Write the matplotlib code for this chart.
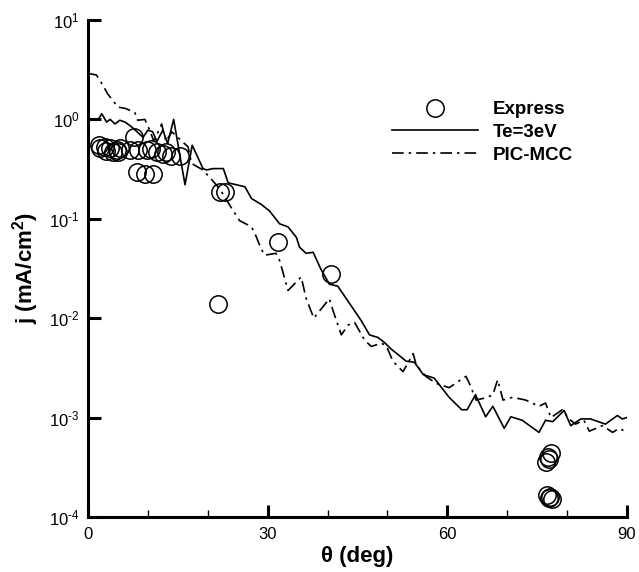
import matplotlib
matplotlib.use("Agg")
import matplotlib.pyplot as plt
from matplotlib.lines import Line2D
from matplotlib.ticker import FixedLocator, LogLocator, NullFormatter, FuncFormatter
import math

plt.rcParams['font.family'] = ['Liberation Sans', 'DejaVu Sans']
plt.rcParams['mathtext.fontset'] = 'custom'
plt.rcParams['mathtext.rm'] = 'Liberation Sans'
plt.rcParams['mathtext.it'] = 'Liberation Sans:italic'
plt.rcParams['mathtext.bf'] = 'Liberation Sans:bold'

# Express (measured) points
express_x = [1.8, 2.0, 2.8, 3.0, 3.7, 4.2, 4.8, 5.0, 5.3, 7.0, 7.6, 8.4, 9.8, 10.5,
             11.5, 12.6, 13.1, 13.9, 15.3, 8.1, 9.5, 10.9, 21.7, 22.0, 22.8,
             31.7, 40.5, 76.5, 76.8, 77.0, 77.3, 76.6, 77.0, 77.2, 77.5]
express_y = [0.55, 0.51, 0.53, 0.48, 0.51, 0.47, 0.49, 0.47, 0.51, 0.49, 0.67, 0.49, 0.49, 0.50,
             0.47, 0.45, 0.47, 0.43, 0.43, 0.295, 0.28, 0.28, 0.014, 0.186, 0.186,
             0.058, 0.028, 3.6e-4, 4.0e-4, 3.8e-4, 4.4e-4, 1.65e-4, 1.55e-4, 1.6e-4, 1.5e-4]

# Te = 3 eV model
te_x = [0, 1.7, 2.3, 3.1, 3.7, 4.5, 5.3, 6.2, 7.3, 9.2, 10.0, 10.8, 11.5, 12.5, 13.3,
        14.3, 16.2, 17.4, 19.2, 19.8, 20.9, 22.6, 23.4, 26.2, 27.3, 28.9, 30.3, 32.0,
        33.4, 34.8, 35.3, 36.4, 37.6, 38.9, 40.3, 41.7, 43.7, 45.6, 47.0, 48.4, 49.5,
        50.6, 52.0, 53.1, 54.5, 56.0, 57.8, 60.3, 62.4, 63.3, 64.7, 66.4, 67.6, 69.5,
        70.6, 72.5, 75.3, 76.4, 77.6, 79.5, 80.6, 82.3, 83.9, 86.4, 88.4, 89.2, 90.0]
te_y = [1.0, 1.0, 1.14, 0.94, 1.0, 0.90, 0.98, 0.94, 0.84, 0.66, 0.78, 0.75, 0.60, 0.78, 0.57,
        1.0, 0.22, 0.55, 0.32, 0.31, 0.32, 0.32, 0.23, 0.21, 0.16, 0.14, 0.12, 0.089,
        0.083, 0.065, 0.052, 0.045, 0.046, 0.031, 0.022, 0.021, 0.014, 0.0095, 0.0068, 0.0064, 0.0057,
        0.0049, 0.0042, 0.0037, 0.0036, 0.0027, 0.0025, 0.0016, 0.0012, 0.0012, 0.0017, 0.00102, 0.0013, 0.00078,
        0.00102, 0.00094, 0.00071, 0.00094, 0.00091, 0.00118, 0.00083, 0.00097, 0.00097, 0.00086, 0.00105, 0.00097, 0.001]

# PIC-MCC simulation
pic_x = [0, 1.4, 2.5, 3.3, 5.0, 6.2, 7.8, 8.3, 9.5, 10.3, 11.0, 12.3, 13.0, 14.0, 15.6,
         16.7, 17.3, 19.2, 20.6, 22.0, 23.9, 25.3, 27.3, 28.1, 28.9, 29.5, 31.4, 32.0,
         33.4, 35.6, 36.4, 37.7, 40.3, 40.9, 42.3, 43.4, 44.5, 46.2, 47.3, 49.0, 49.8,
         50.9, 52.6, 54.3, 54.8, 56.4, 58.2, 60.3, 61.8, 63.1, 63.7, 64.8, 66.7, 67.6,
         68.4, 69.3, 70.9, 73.1, 75.3, 76.4, 77.3, 79.2, 80.3, 81.4, 82.8, 83.7, 85.9,
         87.6, 88.7, 90.0]
pic_y = [2.9, 2.8, 2.2, 1.8, 1.33, 1.29, 1.18, 0.98, 1.0, 0.78, 0.6, 0.9, 0.6, 0.75, 0.61,
         0.53, 0.36, 0.31, 0.25, 0.2, 0.13, 0.096, 0.083, 0.066, 0.05, 0.043, 0.045, 0.038,
         0.019, 0.026, 0.016, 0.010, 0.0157, 0.012, 0.0068, 0.0085, 0.0091, 0.006, 0.0052, 0.0056, 0.0053,
         0.0037, 0.0029, 0.0044, 0.0034, 0.0026, 0.0022, 0.0020, 0.0023, 0.0026, 0.0022, 0.0015, 0.0016, 0.0017,
         0.0024, 0.0015, 0.0016, 0.0015, 0.0013, 0.0014, 0.0010, 0.0012, 0.00097, 0.00086, 0.00094, 0.00073, 0.00083,
         0.00071, 0.00078, 0.00071]

x_ticks = [0, 30, 60, 90]
x_minor = [10, 20, 40, 50, 70, 80]

fig = plt.figure(figsize=(6.39, 5.72), dpi=100)
ax = fig.add_axes([88/639, 55/572, 539/639, 497/572])

dashdot = (0, (7, 3, 1.5, 3))
ax.plot(te_x, te_y, color='black', lw=1.2, label='Te=3eV', zorder=3)
ax.plot(pic_x, pic_y, color='black', lw=1.2, linestyle=dashdot, label='PIC-MCC', zorder=3)
ax.plot(express_x, express_y, linestyle='none', marker='o', markersize=12.5,
        markerfacecolor='none', markeredgecolor='black', markeredgewidth=1.1,
        label='Express', zorder=4)

ax.set_yscale('log')
ax.set_xlim(0, 90)
ax.set_ylim(1e-4, 1e1)
ax.xaxis.set_major_locator(FixedLocator(x_ticks))
ax.xaxis.set_minor_locator(FixedLocator(x_minor))
ax.yaxis.set_major_locator(LogLocator(base=10, numticks=10))
ax.yaxis.set_minor_locator(LogLocator(base=10, subs=[], numticks=10))
ax.yaxis.set_minor_formatter(NullFormatter())


def log_fmt(v, pos):
    n = int(round(math.log10(v)))
    return '$\\mathregular{10^{%s}}$' % (('\\text{-}%d' % -n) if n < 0 else '%d' % n)


ax.yaxis.set_major_formatter(FuncFormatter(log_fmt))

for side in ['top', 'right']:
    ax.spines[side].set_visible(False)
for side in ['left', 'bottom']:
    ax.spines[side].set_linewidth(2.2)

ax.tick_params(axis='both', which='major', direction='in', length=9, width=2.2,
               labelsize=12, pad=6)
ax.tick_params(axis='x', which='minor', direction='in', length=5, width=1)
ax.tick_params(axis='x', which='major', pad=7)

ax.set_xlabel('θ (deg)', fontsize=16, fontweight='bold', labelpad=3)
ax.set_ylabel('j (mA/cm$^\\mathbf{2}$)', fontsize=16, fontweight='bold', labelpad=6)

handles = [
    Line2D([], [], linestyle='none', marker='o', markersize=12.5, markerfacecolor='none',
           markeredgecolor='black', markeredgewidth=1.1),
    Line2D([], [], color='black', lw=1.2),
    Line2D([], [], color='black', lw=1.2, linestyle=dashdot),
]
leg = ax.legend(handles, ['Express', 'Te=3eV', 'PIC-MCC'], loc='upper left',
                bbox_to_anchor=(0.564, 0.837), frameon=False, borderpad=0,
                borderaxespad=0, handlelength=4.6, handletextpad=0.75, labelspacing=0.3,
                prop={'weight': 'bold', 'size': 13.5})

fig.savefig('out.png', dpi=100)
